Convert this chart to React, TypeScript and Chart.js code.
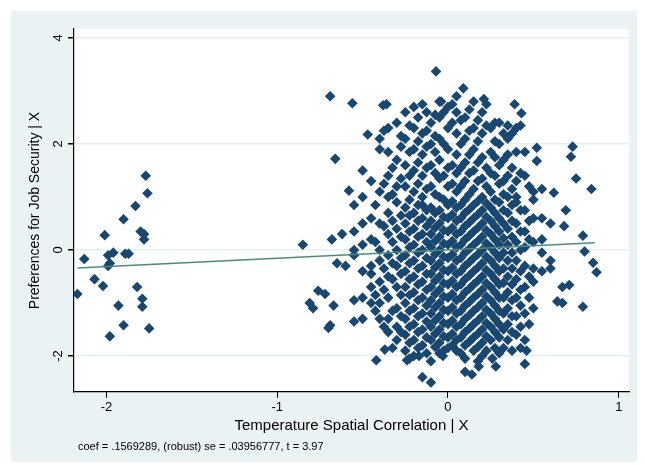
import { useEffect, useRef } from 'react';
import { Chart, registerables } from 'chart.js';

Chart.register(...registerables);

// left cluster
const leftX = [-2.17, -2.13, -2.07, -2.02, -2.01, -1.99, -1.99, -1.98, -1.98, -1.93, -1.9, -1.9, -1.89, -1.87, -1.83, -1.82, -1.79, -1.79, -1.78, -1.78, -1.77, -1.76, -1.75, -1.96, -1.8];
const leftY = [-0.83, -0.17, -0.55, -0.68, 0.28, -0.1, -0.3, -0.25, -1.63, -1.05, 0.58, -1.42, -0.07, -0.07, 0.83, -0.7, -0.92, -1.07, 0.3, 0.2, 1.4, 1.07, -1.48, -0.05, 0.35];

// outlying points around the main cloud
const outerX = [-0.07, 0.09, -0.69, -0.56, -0.36, -0.38, -0.04, 0.21, 0.39, 0.43, -0.47, -0.66, 0.52, 0.73, 0.72, 0.75, 0.84, 0.62, 0.52, -0.85, -0.81, -0.79, -0.76, -0.72, -0.7, -0.69, -0.67, -0.68, -0.58, -0.55, 0.79, 0.8, 0.85, 0.87, 0.79, 0.67, 0.64, 0.67, 0.69, 0.71, 0.68, -0.42, -0.37, -0.15, -0.1, -0.03, 0.1, 0.14, 0.18, 0.28, 0.45, 0.46, -0.17, -0.24, 0.26, -0.62, -0.6, -0.65];
const outerY = [3.37, 3.05, 2.9, 2.77, 2.75, 2.73, 2.8, 2.85, 2.75, 2.58, 2.18, 1.72, 1.93, 1.95, 1.76, 1.35, 1.15, 1.08, 1.68, 0.1, -1.0, -1.1, -0.77, -0.83, -1.47, -1.42, -1.05, 0.2, 1.12, 0.85, 0.27, -0.03, -0.24, -0.42, -1.07, -1.0, -0.97, -0.7, 0.75, -0.66, 0.45, -2.08, -1.88, -2.4, -2.5, -2.0, -2.3, -2.35, -2.2, -2.2, -2.15, -1.9, -2.0, -2.08, -2.05, 0.3, -0.3, -0.25];

// dense cloud, read as columns
const cloudX = [-0.55, -0.5, -0.45, -0.4, -0.35, -0.3, -0.25, -0.2, -0.15, -0.1, -0.05, 0, 0.05, 0.1, 0.15, 0.2, 0.25, 0.3, 0.35, 0.4, 0.45, 0.5, 0.55, 0.6];
const cloudY = [
  [-0.95, -1.35, 0.35, 0.0, -0.1],
  [1.0, 0.5, -0.4, -0.9, 1.5, -1.3, 0.1],
  [1.3, 0.2, -0.3, -0.7, -1.0, 0.6, -0.45],
  [1.9, 1.1, 0.5, -0.2, -0.6, -1.0, -1.3, 0.0, 2.1],
  [2.3, 1.85, 1.4, 0.7, 0.3, -0.1, -0.5, -0.9, -1.3, -1.55, 1.0],
  [1.7, 1.2, 0.9, 0.4, 0.0, -0.3, -0.7, -1.1, -1.45, -1.7, 2.4],
  [2.6, 2.1, 1.6, 1.2, 0.8, 0.5, 0.2, -0.1, -0.4, -0.7, -1.0, -1.3, -1.6, -1.9],
  [2.3, 1.9, 1.5, 1.1, 0.7, 0.4, 0.1, -0.2, -0.5, -0.8, -1.1, -1.4, -1.7, -2.0, 2.7],
  [2.75, 2.2, 1.8, 1.4, 1.0, 0.6, 0.3, 0.0, -0.3, -0.6, -0.9, -1.2, -1.5, -1.8, 0.85],
  [2.4, 2.0, 1.6, 1.2, 0.8, 0.55, 0.3, 0.05, -0.2, -0.45, -0.7, -0.95, -1.2, -1.45, -1.7, -2.1],
  [2.8, 2.5, 2.1, 1.7, 1.35, 1.0, 0.75, 0.5, 0.25, 0.0, -0.25, -0.5, -0.75, -1.0, -1.25, -1.5, -1.75, -1.95],
  [2.7, 2.3, 1.9, 1.55, 1.2, 0.85, 0.6, 0.35, 0.1, -0.15, -0.4, -0.65, -0.9, -1.15, -1.4, -1.65, -1.85],
  [2.6, 2.2, 1.8, 1.45, 1.1, 0.8, 0.55, 0.3, 0.05, -0.2, -0.45, -0.7, -0.95, -1.2, -1.45, -1.7, -1.9, 2.9],
  [2.5, 2.1, 1.65, 1.3, 0.95, 0.7, 0.45, 0.2, -0.05, -0.3, -0.55, -0.8, -1.05, -1.3, -1.55, -1.8, -2.05],
  [2.8, 2.3, 1.9, 1.5, 1.15, 0.85, 0.6, 0.35, 0.1, -0.15, -0.4, -0.65, -0.9, -1.15, -1.4, -1.65, -1.9],
  [2.6, 2.2, 1.75, 1.35, 1.0, 0.75, 0.5, 0.25, 0.0, -0.25, -0.5, -0.75, -1.0, -1.25, -1.5, -1.75, -2.0],
  [2.3, 1.85, 1.45, 1.1, 0.8, 0.55, 0.3, 0.05, -0.2, -0.45, -0.7, -0.95, -1.2, -1.45, -1.7],
  [2.4, 2.0, 1.6, 1.25, 0.9, 0.6, 0.35, 0.1, -0.15, -0.4, -0.65, -0.9, -1.15, -1.4, -1.65, -1.95],
  [2.35, 1.8, 1.4, 1.0, 0.7, 0.4, 0.1, -0.2, -0.5, -0.8, -1.1, -1.4, -1.7, 2.1],
  [2.3, 1.85, 1.3, 0.9, 0.5, 0.15, -0.2, -0.55, -0.9, -1.25, -1.6, 1.0],
  [1.85, 1.4, 0.75, 0.35, -0.3, -0.7, -1.2, -1.7, 0.05],
  [1.1, 0.6, 0.15, -0.35, -0.6, -1.1, 0.95],
  [1.15, 0.6, -0.05, -0.4, 0.2],
  [0.5, -0.2, -0.35],
];

// in-between columns that fill the dense core
const coreX = [-0.425, -0.375, -0.325, -0.275, -0.225, -0.175, -0.125, -0.075, -0.025, 0.025, 0.075, 0.125, 0.175, 0.225, 0.275, 0.325, 0.375, 0.425, 0.475];
const coreY = [
  [0.85, 0.15, -0.85, -1.15],
  [1.25, 0.45, -0.35, -0.75, -1.45, 2.25],
  [1.55, 1.05, 0.55, 0.15, -0.25, -0.55, -1.15, -1.85],
  [1.95, 1.35, 0.65, 0.25, -0.15, -0.45, -0.85, -1.25, -1.55, 2.15],
  [2.35, 1.85, 1.4, 0.95, 0.65, 0.35, 0.05, -0.25, -0.55, -0.85, -1.15, -1.45, -1.75, -2.05],
  [2.5, 2.05, 1.65, 1.25, 0.85, 0.55, 0.25, -0.05, -0.35, -0.65, -0.95, -1.25, -1.55, -1.85],
  [2.6, 2.25, 1.95, 1.55, 1.15, 0.75, 0.45, 0.15, -0.15, -0.45, -0.75, -1.05, -1.35, -1.65, -1.95],
  [2.55, 2.15, 1.85, 1.45, 1.05, 0.7, 0.42, 0.17, -0.08, -0.33, -0.58, -0.83, -1.08, -1.33, -1.58, -1.83],
  [2.6, 2.0, 1.4, 0.95, 0.62, 0.37, 0.12, -0.13, -0.38, -0.63, -0.88, -1.13, -1.38, -1.63, -1.9],
  [2.75, 2.4, 1.6, 1.25, 0.92, 0.67, 0.42, 0.17, -0.08, -0.33, -0.58, -0.83, -1.08, -1.33, -1.58, -1.8],
  [2.45, 2.0, 1.55, 1.2, 0.85, 0.6, 0.35, 0.1, -0.15, -0.4, -0.65, -0.9, -1.15, -1.4, -1.65, -1.95],
  [2.65, 2.25, 1.8, 1.45, 1.05, 0.77, 0.52, 0.27, 0.02, -0.23, -0.48, -0.73, -0.98, -1.23, -1.48, -1.73],
  [2.45, 2.05, 1.65, 1.3, 0.92, 0.67, 0.42, 0.17, -0.08, -0.33, -0.58, -0.83, -1.08, -1.33, -1.58, -1.83, -2.1],
  [2.75, 2.35, 1.55, 1.2, 0.88, 0.62, 0.37, 0.12, -0.13, -0.38, -0.63, -0.88, -1.13, -1.38, -1.63, -1.9],
  [2.4, 2.05, 1.75, 1.4, 0.95, 0.7, 0.45, 0.2, -0.05, -0.3, -0.55, -0.8, -1.05, -1.3, -1.55, -1.85],
  [2.2, 1.7, 1.3, 1.05, 0.75, 0.5, 0.22, -0.05, -0.35, -0.62, -0.9, -1.2, -1.5, -1.85],
  [2.2, 1.55, 1.15, 0.85, 0.55, 0.25, -0.05, -0.35, -0.65, -0.95, -1.25, -1.55, -1.9],
  [2.35, 1.45, 0.75, 0.35, 0.0, -0.4, -0.75, -1.05, -1.45, -1.85],
  [1.2, 0.55, 0.2, -0.5, -0.9, -1.4],
];

// fitted line
const fitX = [-2.17, 0.86];
const fitY = [-0.34, 0.135];

const yTicks = [-2, 0, 2, 4];
const xTicks = [-2, -1, 0, 1];

const points = [
  ...leftX.map((x, i) => ({ x, y: leftY[i] })),
  ...outerX.map((x, i) => ({ x, y: outerY[i] })),
  ...cloudX.flatMap((x, i) => cloudY[i].map((y) => ({ x, y }))),
  ...coreX.flatMap((x, i) => coreY[i].map((y) => ({ x, y }))),
];

const FONT = 'Arial, "Liberation Sans", sans-serif';

const stataFrame = {
  id: 'stataFrame',
  beforeDraw(chart: Chart) {
    const { ctx, chartArea: a } = chart;
    ctx.save();
    ctx.fillStyle = '#fff';
    ctx.fillRect(a.left, a.top, a.right - a.left, a.bottom - a.top);
    ctx.restore();
  },
  afterDraw(chart: Chart) {
    const ctx = chart.ctx;
    const ys = chart.scales.y;
    const a = chart.chartArea;
    ctx.save();
    ctx.fillStyle = '#000';
    ctx.font = '13px ' + FONT;
    ctx.textAlign = 'center';
    ctx.textBaseline = 'middle';
    yTicks.forEach((t) => {
      ctx.save();
      ctx.translate(a.left - 16, ys.getPixelForValue(t));
      ctx.rotate(-Math.PI / 2);
      ctx.fillText(String(t), 0, 0);
      ctx.restore();
    });
    ctx.font = '14px ' + FONT;
    ctx.translate(27, (a.top + a.bottom) / 2);
    ctx.rotate(-Math.PI / 2);
    ctx.fillText('Preferences for Job Security | X', 0, 0);
    ctx.restore();
  },
};

export default function App() {
  const ref = useRef<HTMLCanvasElement>(null);

  useEffect(() => {
    if (!ref.current) return;
    const chart = new Chart(ref.current, {
      type: 'scatter',
      data: {
        datasets: [
          {
            data: points,
            order: 1,
            pointStyle: 'rectRot',
            pointRadius: 5.3,
            backgroundColor: '#1a476f',
            borderColor: '#1a476f',
            borderWidth: 0,
          },
          {
            type: 'line',
            order: 0,
            data: fitX.map((x, i) => ({ x, y: fitY[i] })),
            borderColor: '#4f8a78',
            borderWidth: 1.5,
            pointRadius: 0,
          },
        ],
      },
      options: {
        animation: false,
        responsive: false,
        layout: { padding: { top: 21, right: 16, left: 0, bottom: 0 } },
        plugins: { legend: { display: false }, tooltip: { enabled: false } },
        scales: {
          x: {
            type: 'linear',
            min: -2.19,
            max: 1.06,
            afterBuildTicks: (s) => { s.ticks = xTicks.map((v) => ({ value: v })); },
            afterFit: (s) => { s.height = 73; },
            grid: { color: 'rgba(0,0,0,0)', tickColor: '#000', tickLength: 6, drawOnChartArea: false },
            border: { color: '#000', width: 1.2 },
            ticks: { color: '#000', font: { size: 13, family: FONT }, padding: 2 },
            title: { display: true, text: 'Temperature Spatial Correlation | X', color: '#000', font: { size: 15, family: FONT }, padding: { top: 0, bottom: 30 } },
          },
          y: {
            type: 'linear',
            min: -2.68,
            max: 4.17,
            afterBuildTicks: (s) => { s.ticks = yTicks.map((v) => ({ value: v })); },
            afterFit: (s) => { s.width = 66; },
            grid: { color: '#e6eff0', lineWidth: 1.5, tickColor: '#000', tickLength: 6 },
            border: { color: '#000', width: 1.2 },
            ticks: { display: false },
          },
        },
      },
      plugins: [stataFrame],
    });
    return () => chart.destroy();
  }, []);

  return (
    <div style={{ position: 'relative', width: 637, height: 457, fontFamily: FONT }}>
      <div style={{ position: 'absolute', left: 3, top: 3, width: 634, height: 451, background: '#eaf2f3' }} />
      <canvas ref={ref} width={637} height={457} style={{ position: 'absolute', left: 0, top: 0 }} />
      <div style={{ position: 'absolute', left: 70, top: 432, fontSize: 11, color: '#000' }}>
        coef = .1569289, (robust) se = .03956777, t = 3.97
      </div>
    </div>
  );
}
